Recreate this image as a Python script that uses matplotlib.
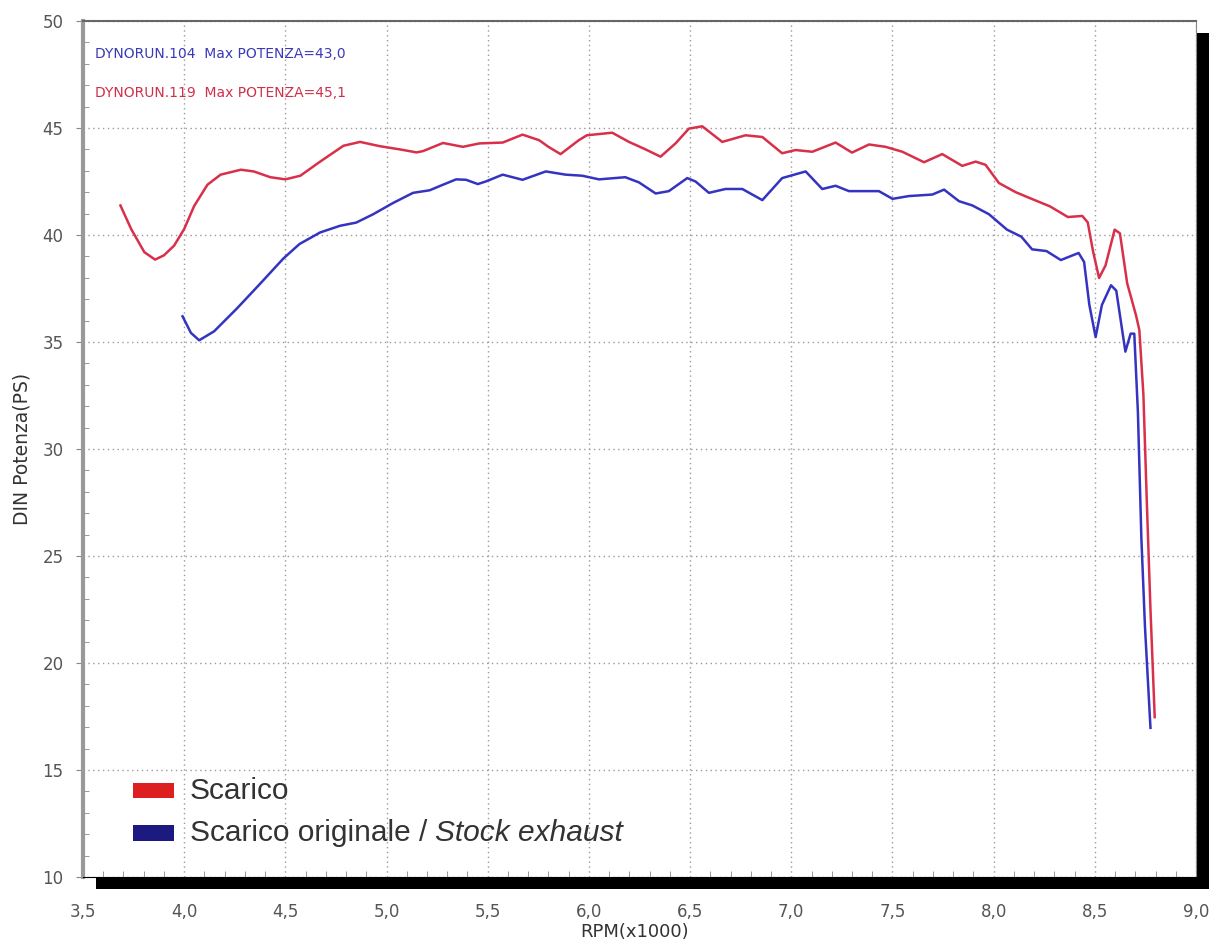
import numpy as np
import matplotlib.pyplot as plt
from matplotlib.patches import Rectangle
from matplotlib.ticker import MultipleLocator, FuncFormatter

plt.rcParams['font.family'] = ['DejaVu Sans']

# curva rossa - scarico
rpm_scarico = [3.685, 3.738, 3.803, 3.856, 3.90, 3.95, 4.0, 4.049, 4.115, 4.18,
               4.28, 4.344, 4.426, 4.5, 4.574, 4.672, 4.787, 4.869, 4.967, 5.066,
               5.148, 5.18, 5.279, 5.377, 5.459, 5.574, 5.672, 5.754, 5.80, 5.86,
               5.95, 5.99, 6.115, 6.198, 6.28, 6.354, 6.428, 6.494, 6.56, 6.659,
               6.774, 6.857, 6.955, 7.021, 7.104, 7.219, 7.30, 7.384, 7.466, 7.549,
               7.656, 7.746, 7.845, 7.911, 7.96, 8.026, 8.109, 8.19, 8.278, 8.367,
               8.438, 8.465, 8.491, 8.521, 8.553, 8.598, 8.624, 8.66, 8.704, 8.72,
               8.74, 8.757, 8.775, 8.796]
pot_scarico = [41.38, 40.28, 39.2, 38.85, 39.05, 39.5, 40.28, 41.35, 42.35, 42.82,
               43.05, 42.97, 42.7, 42.6, 42.77, 43.43, 44.17, 44.35, 44.15, 44.0,
               43.86, 43.92, 44.3, 44.12, 44.28, 44.32, 44.69, 44.43, 44.12, 43.78,
               44.43, 44.66, 44.78, 44.35, 44.0, 43.66, 44.28, 44.97, 45.08, 44.35,
               44.66, 44.58, 43.82, 43.97, 43.89, 44.32, 43.85, 44.23, 44.12, 43.89,
               43.4, 43.78, 43.23, 43.43, 43.28, 42.43, 42.0, 41.68, 41.34, 40.84,
               40.89, 40.59, 39.25, 37.99, 38.58, 40.25, 40.08, 37.74, 36.23, 35.56,
               32.55, 27.52, 22.5, 17.47]

# curva blu - scarico originale
rpm_originale = [3.992, 4.033, 4.074, 4.148, 4.262, 4.377, 4.49, 4.57, 4.672, 4.77,
                 4.85, 4.934, 5.033, 5.131, 5.213, 5.279, 5.344, 5.393, 5.451, 5.49,
                 5.574, 5.672, 5.787, 5.885, 5.967, 6.05, 6.18, 6.247, 6.33, 6.395,
                 6.486, 6.527, 6.593, 6.675, 6.758, 6.857, 6.955, 7.071, 7.153, 7.219,
                 7.285, 7.433, 7.5, 7.582, 7.697, 7.755, 7.829, 7.895, 7.977, 8.066,
                 8.137, 8.19, 8.261, 8.332, 8.42, 8.447, 8.473, 8.504, 8.535, 8.58,
                 8.606, 8.651, 8.677, 8.695, 8.713, 8.73, 8.748, 8.775]
pot_originale = [36.2, 35.43, 35.08, 35.5, 36.58, 37.74, 38.9, 39.58, 40.12, 40.43,
                 40.58, 40.97, 41.5, 41.97, 42.09, 42.35, 42.6, 42.58, 42.38, 42.5,
                 42.82, 42.58, 42.97, 42.82, 42.77, 42.6, 42.7, 42.46, 41.94, 42.05,
                 42.66, 42.5, 41.97, 42.15, 42.15, 41.63, 42.66, 42.97, 42.15, 42.3,
                 42.05, 42.05, 41.69, 41.82, 41.89, 42.12, 41.58, 41.38, 40.97, 40.25,
                 39.92, 39.33, 39.25, 38.83, 39.16, 38.74, 36.73, 35.23, 36.73, 37.65,
                 37.4, 34.55, 35.39, 35.39, 31.7, 25.85, 21.66, 16.97]

rosso = '#d8304a'
blu = '#3434c0'
grigio = '#555555'
legenda_font = ['Liberation Sans', 'DejaVu Sans']

fig = plt.figure(figsize=(12.11, 9.39), dpi=100)
pos = [83 / 1211, 1 - 877 / 939, (1196 - 83) / 1211, (877 - 21) / 939]
ax = fig.add_axes(pos)

# ombra nera dietro il grafico
fig.patches.append(Rectangle((pos[0] + 13 / 1211, pos[1] - 12 / 939), pos[2], pos[3],
                             transform=fig.transFigure, facecolor='black',
                             edgecolor='none', zorder=-1))

ax.plot(rpm_scarico, pot_scarico, color=rosso, lw=1.8)
ax.plot(rpm_originale, pot_originale, color=blu, lw=1.8)

ax.set_xlim(3.5, 9.0)
ax.set_ylim(10, 50)
ax.xaxis.set_major_locator(MultipleLocator(0.5))
ax.xaxis.set_minor_locator(MultipleLocator(0.1))
ax.yaxis.set_major_locator(MultipleLocator(5))
ax.yaxis.set_minor_locator(MultipleLocator(1))
ax.xaxis.set_major_formatter(FuncFormatter(lambda v, p: f'{v:.1f}'.replace('.', ',')))
ax.grid(True, which='major', color='#9a9a9a', linestyle=(0, (1, 2.5)), lw=1)

ax.tick_params(axis='y', which='major', direction='out', length=5, color='#888888',
               labelsize=12, labelcolor=grigio, pad=9)
ax.tick_params(axis='x', which='major', length=0, labelsize=12, labelcolor=grigio, pad=19)
ax.tick_params(which='minor', direction='in', length=4, color='#888888')

ax.spines['left'].set_color('#999999')
ax.spines['left'].set_linewidth(3)
ax.spines['top'].set_color('#666666')
ax.spines['top'].set_linewidth(1.5)
ax.spines['right'].set_color('#888888')
ax.spines['bottom'].set_color('black')

ax.set_ylabel('DIN Potenza(PS)', fontsize=13.5, color='#333333')
ax.yaxis.set_label_coords(-0.046, 0.5)
ax.set_xlabel('RPM(x1000)', fontsize=13, color='#333333')
ax.xaxis.set_label_coords(0.496, -0.0537)

ax.text(0.0108, 0.961, 'DYNORUN.104  Max POTENZA=43,0', transform=ax.transAxes,
        color='#3a3ab8', fontsize=10, va='center')
ax.text(0.0108, 0.916, 'DYNORUN.119  Max POTENZA=45,1', transform=ax.transAxes,
        color='#d0304a', fontsize=10, va='center')

# legenda
ax.add_patch(Rectangle((0.0449, 0.0923), 0.0368, 0.0175, transform=ax.transAxes,
                       facecolor='#dd1f1f', edgecolor='none'))
ax.add_patch(Rectangle((0.0449, 0.042), 0.0368, 0.0187, transform=ax.transAxes,
                       facecolor='#1c1a80', edgecolor='none'))
ax.text(0.0961, 0.0911, 'Scarico', transform=ax.transAxes, fontsize=21.5,
        family=legenda_font, color='#333333', va='baseline')
t = ax.text(0.0961, 0.042, 'Scarico originale / ', transform=ax.transAxes, fontsize=21.5,
            family=legenda_font, color='#333333', va='baseline')
ax.annotate('Stock exhaust', xy=(1, 0), xycoords=t, va='bottom', fontsize=21.5,
            family=legenda_font, color='#333333', style='italic')

fig.savefig('out.png', dpi=100)
